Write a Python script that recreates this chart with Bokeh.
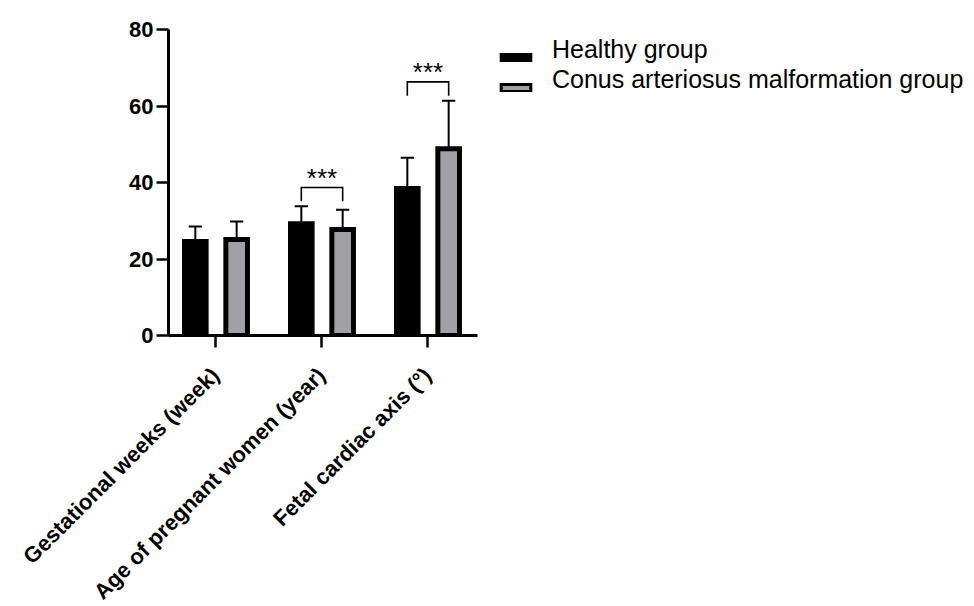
import numpy as np
from bokeh.plotting import figure
from bokeh.models import Legend, LegendItem, FixedTicker, Range1d, ColumnDataSource
from bokeh.core.properties import value
from bokeh.embed import file_html
from bokeh.resources import INLINE

categories = ["Gestational weeks (week)", "Age of pregnant women (year)", "Fetal cardiac axis (\u00b0)"]
healthy_mean = [24.6, 29.2, 38.4]
healthy_sd = [3.9, 4.6, 8.1]
conus_mean = [25.1, 27.7, 48.8]
conus_sd = [4.7, 5.2, 12.6]
significant = [False, True, True]
y_ticks = [0, 20, 40, 60, 80]
series_names = ["Healthy group", "Conus arteriosus malformation group"]

FONT = "Liberation Sans"
GRAY = "#a1a1a5"
PX_PER_UNIT = 106.0
FRAME_W = 805
FRAME_H = 306
x_start = 0.557
x_end = x_start + FRAME_W / PX_PER_UNIT

p = figure(frame_width=FRAME_W, frame_height=FRAME_H,
           x_range=Range1d(x_start, x_end), y_range=Range1d(0, 80),
           output_backend="svg", toolbar_location=None,
           min_border_left=168, min_border_top=29, min_border_right=0,
           min_border_bottom=10)
p.outline_line_color = None
p.grid.visible = False
p.background_fill_color = "white"

xs = np.arange(1, len(categories) + 1)
off_h, off_c = -0.19, 0.20
bar_w = 0.204
cap_w = 0.125

src_h = ColumnDataSource(dict(x=xs + off_h, top=healthy_mean,
                              err=np.array(healthy_mean) + np.array(healthy_sd)))
src_c = ColumnDataSource(dict(x=xs + off_c, top=conus_mean,
                              err=np.array(conus_mean) + np.array(conus_sd)))

# error bars
for src in (src_h, src_c):
    d = src.data
    p.segment(x0=d["x"], y0=d["top"], x1=d["x"], y1=d["err"], line_color="black", line_width=2)
    p.segment(x0=d["x"] - cap_w / 2, y0=d["err"], x1=d["x"] + cap_w / 2, y1=d["err"],
              line_color="black", line_width=2)

# legend-key renderers (thinner outline), fully covered by the real bars drawn after
key_h = p.vbar(x="x", top="top", width=bar_w, bottom=0, source=src_h, fill_color="black",
               line_color="black", line_width=3, line_join="miter")
key_c = p.vbar(x="x", top="top", width=bar_w, bottom=0, source=src_c, fill_color=GRAY,
               line_color="black", line_width=3, line_join="miter")
# invisible renderers for the legend's text column
txt_h = p.vbar(x="x", top="top", width=bar_w, bottom=0, source=src_h, fill_alpha=0, line_alpha=0)
txt_c = p.vbar(x="x", top="top", width=bar_w, bottom=0, source=src_c, fill_alpha=0, line_alpha=0)

p.vbar(x="x", top="top", width=bar_w, bottom=0, source=src_h,
       fill_color="black", line_color="black", line_width=5, line_join="miter")
p.vbar(x="x", top="top", width=bar_w, bottom=0, source=src_c,
       fill_color=GRAY, line_color="black", line_width=5, line_join="miter")

# significance brackets
for i, sig in enumerate(significant):
    if not sig:
        continue
    base = max(healthy_mean[i] + healthy_sd[i], conus_mean[i] + conus_sd[i])
    leg_bot = base + 1.3
    top = base + 4.9
    xl, xr = xs[i] + off_h, xs[i] + off_c
    p.line(x=[xl, xl, xr, xr], y=[leg_bot, top, top, leg_bot], line_color="black",
           line_width=1.6, line_join="miter")
    p.text(x=[(xl + xr) / 2], y=[top + 2.5], text=["***"], text_align="center",
           text_baseline="alphabetic", text_font=value(FONT), text_font_size="26px",
           text_color="black")

# axes
xa = p.xaxis[0]
xa.ticker = FixedTicker(ticks=list(xs))
xa.major_label_overrides = {int(x): c for x, c in zip(xs, categories)}
xa.bounds = (x_start, 3.472)
xa.major_label_orientation = np.pi / 4
xa.major_label_text_font = FONT
xa.major_label_text_font_style = "bold"
xa.major_label_text_font_size = "22px"
xa.major_label_text_color = "black"
xa.axis_line_width = 3
xa.axis_line_color = "black"
xa.major_tick_line_width = 2.5
xa.major_tick_in = 0
xa.major_tick_out = 12
xa.minor_tick_line_color = None
xa.major_label_standoff = 24

ya = p.yaxis[0]
ya.ticker = FixedTicker(ticks=y_ticks)
ya.major_label_text_font = FONT
ya.major_label_text_font_style = "bold"
ya.major_label_text_font_size = "22px"
ya.major_label_text_color = "black"
ya.axis_line_width = 3
ya.axis_line_color = "black"
ya.major_tick_line_width = 2.5
ya.major_tick_in = 0
ya.major_tick_out = 12
ya.minor_tick_line_color = None
ya.major_label_standoff = 3


def make_legend(items, loc):
    lg = Legend(items=items, location=loc, orientation="vertical")
    lg.border_line_color = None
    lg.background_fill_alpha = 0
    lg.padding = 0
    lg.margin = 0
    lg.spacing = 0
    lg.glyph_width = 37
    lg.glyph_height = 9
    lg.label_height = 30
    lg.label_standoff = 18
    lg.label_text_font = FONT
    lg.label_text_font_size = "25px"
    lg.label_text_color = "black"
    lg.label_text_baseline = "alphabetic"
    return lg


# key boxes sit a little lower than the text, as in the original
legend_keys = make_legend([LegendItem(label=" ", renderers=[key_h]),
                           LegendItem(label=" ", renderers=[key_c])], (329, 233))
legend_text = make_legend([LegendItem(label=series_names[0], renderers=[txt_h]),
                           LegendItem(label=series_names[1], renderers=[txt_c])], (329, 241))
p.add_layout(legend_keys)
p.add_layout(legend_text)

open("out.html", "w").write(file_html(p, INLINE))
